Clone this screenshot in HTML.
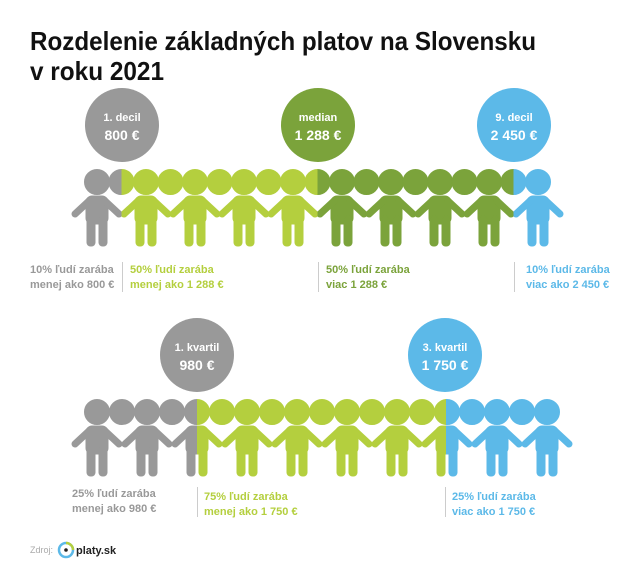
<!DOCTYPE html>
<html><head><meta charset="utf-8"><style>
html,body{margin:0;padding:0;background:#fff}
svg{display:block}
text{font-family:"Liberation Sans",sans-serif}
</style></head><body>
<svg width="640" height="585" viewBox="0 0 640 585" xmlns="http://www.w3.org/2000/svg">
<defs>
<g id="fig">
  <rect x="-11" y="14" width="22" height="28" rx="6"/>
  <line x1="-8" y1="19" x2="-22" y2="32" stroke-width="7" stroke-linecap="round"/>
  <line x1="8" y1="19" x2="22" y2="32" stroke-width="7" stroke-linecap="round"/>
  <rect x="-10" y="34" width="8" height="30" rx="3.5"/>
  <rect x="2" y="34" width="8" height="30" rx="3.5"/>
</g>
<g id="row1">
  <g id="h1">
  <circle cx="97" cy="0" r="12.5"/><circle cx="121.5" cy="0" r="12.5"/><circle cx="146" cy="0" r="12.5"/><circle cx="170.5" cy="0" r="12.5"/><circle cx="195" cy="0" r="12.5"/><circle cx="219.5" cy="0" r="12.5"/><circle cx="244" cy="0" r="12.5"/><circle cx="268.5" cy="0" r="12.5"/><circle cx="293" cy="0" r="12.5"/><circle cx="317.5" cy="0" r="12.5"/><circle cx="342" cy="0" r="12.5"/><circle cx="366.5" cy="0" r="12.5"/><circle cx="391" cy="0" r="12.5"/><circle cx="415.5" cy="0" r="12.5"/><circle cx="440" cy="0" r="12.5"/><circle cx="464.5" cy="0" r="12.5"/><circle cx="489" cy="0" r="12.5"/><circle cx="513.5" cy="0" r="12.5"/><circle cx="538" cy="0" r="12.5"/>
  </g>
  <use href="#fig" x="97"/><use href="#fig" x="146"/><use href="#fig" x="195"/><use href="#fig" x="244"/><use href="#fig" x="293"/><use href="#fig" x="342"/><use href="#fig" x="391"/><use href="#fig" x="440"/><use href="#fig" x="489"/><use href="#fig" x="538"/>
</g>
<g id="row2">
  <circle cx="97" cy="0" r="12.5"/><circle cx="122" cy="0" r="12.5"/><circle cx="147" cy="0" r="12.5"/><circle cx="172" cy="0" r="12.5"/><circle cx="197" cy="0" r="12.5"/><circle cx="222" cy="0" r="12.5"/><circle cx="247" cy="0" r="12.5"/><circle cx="272" cy="0" r="12.5"/><circle cx="297" cy="0" r="12.5"/><circle cx="322" cy="0" r="12.5"/><circle cx="347" cy="0" r="12.5"/><circle cx="372" cy="0" r="12.5"/><circle cx="397" cy="0" r="12.5"/><circle cx="422" cy="0" r="12.5"/><circle cx="447" cy="0" r="12.5"/><circle cx="472" cy="0" r="12.5"/><circle cx="497" cy="0" r="12.5"/><circle cx="522" cy="0" r="12.5"/><circle cx="547" cy="0" r="12.5"/>
  <use href="#fig" x="97"/><use href="#fig" x="147"/><use href="#fig" x="197"/><use href="#fig" x="247"/><use href="#fig" x="297"/><use href="#fig" x="347"/><use href="#fig" x="397"/><use href="#fig" x="447"/><use href="#fig" x="497"/><use href="#fig" x="547"/>
</g>
<clipPath id="c1a"><rect x="0" y="-50" width="121.5" height="150"/></clipPath>
<clipPath id="c1b"><rect x="121.5" y="-50" width="196" height="150"/></clipPath>
<clipPath id="c1c"><rect x="317.5" y="-50" width="196" height="150"/></clipPath>
<clipPath id="c1d"><rect x="513.5" y="-50" width="130" height="150"/></clipPath>
<clipPath id="c2a"><rect x="0" y="-50" width="197" height="150"/></clipPath>
<clipPath id="c2b"><rect x="197" y="-50" width="249" height="150"/></clipPath>
<clipPath id="c2c"><rect x="446" y="-50" width="200" height="150"/></clipPath>
</defs>

<text x="30" y="50" font-size="26" font-weight="bold" fill="#111" textLength="506" lengthAdjust="spacingAndGlyphs">Rozdelenie základných platov na Slovensku</text>
<text x="30" y="80" font-size="26" font-weight="bold" fill="#111" textLength="134" lengthAdjust="spacingAndGlyphs">v roku 2021</text>

<!-- row 1 circles -->
<circle cx="122" cy="125" r="37" fill="#999"/>
<circle cx="318" cy="125" r="37" fill="#7ba33b"/>
<circle cx="514" cy="125" r="37" fill="#5cb9e8"/>
<g font-weight="bold" fill="#fff" text-anchor="middle">
<text x="122" y="121" font-size="11">1. decil</text><text x="122" y="140" font-size="14">800 €</text>
<text x="318" y="121" font-size="11">median</text><text x="318" y="140" font-size="14">1 288 €</text>
<text x="514" y="121" font-size="11">9. decil</text><text x="514" y="140" font-size="14">2 450 €</text>
</g>

<g transform="translate(0,182)">
<use href="#row1" fill="#999" stroke="#999" clip-path="url(#c1a)"/>
<use href="#row1" fill="#b4cf3e" stroke="#b4cf3e" clip-path="url(#c1b)"/>
<use href="#row1" fill="#7ba33b" stroke="#7ba33b" clip-path="url(#c1c)"/>
<use href="#row1" fill="#5cb9e8" stroke="#5cb9e8" clip-path="url(#c1d)"/>
</g>

<g font-size="11" font-weight="bold">
<text x="30" y="273" fill="#999">10% ľudí zarába</text><text x="30" y="288" fill="#999">menej ako 800 €</text>
<line x1="122.5" y1="262" x2="122.5" y2="292" stroke="#ccc"/>
<text x="130" y="273" fill="#b4cf3e">50% ľudí zarába</text><text x="130" y="288" fill="#b4cf3e">menej ako 1 288 €</text>
<line x1="318.5" y1="262" x2="318.5" y2="292" stroke="#ccc"/>
<text x="326" y="273" fill="#7ba33b">50% ľudí zarába</text><text x="326" y="288" fill="#7ba33b">viac 1 288 €</text>
<line x1="514.5" y1="262" x2="514.5" y2="292" stroke="#ccc"/>
<text x="526" y="273" fill="#5cb9e8">10% ľudí zarába</text><text x="526" y="288" fill="#5cb9e8">viac ako 2 450 €</text>
</g>

<!-- row 2 -->
<circle cx="197" cy="355" r="37" fill="#999"/>
<circle cx="445" cy="355" r="37" fill="#5cb9e8"/>
<g font-weight="bold" fill="#fff" text-anchor="middle">
<text x="197" y="351" font-size="11">1. kvartil</text><text x="197" y="370" font-size="14">980 €</text>
<text x="445" y="351" font-size="11">3. kvartil</text><text x="445" y="370" font-size="14">1 750 €</text>
</g>

<g transform="translate(0,412)">
<use href="#row2" fill="#999" stroke="#999" clip-path="url(#c2a)"/>
<use href="#row2" fill="#b4cf3e" stroke="#b4cf3e" clip-path="url(#c2b)"/>
<use href="#row2" fill="#5cb9e8" stroke="#5cb9e8" clip-path="url(#c2c)"/>
</g>

<g font-size="11" font-weight="bold">
<text x="72" y="497" fill="#999">25% ľudí zarába</text><text x="72" y="512" fill="#999">menej ako 980 €</text>
<line x1="197.5" y1="487" x2="197.5" y2="517" stroke="#ccc"/>
<text x="204" y="500" fill="#b4cf3e">75% ľudí zarába</text><text x="204" y="515" fill="#b4cf3e">menej ako 1 750 €</text>
<line x1="445.5" y1="487" x2="445.5" y2="517" stroke="#ccc"/>
<text x="452" y="500" fill="#5cb9e8">25% ľudí zarába</text><text x="452" y="515" fill="#5cb9e8">viac ako 1 750 €</text>
</g>

<text x="30" y="553" font-size="9" fill="#aaa">Zdroj:</text>
<circle cx="66" cy="550" r="7" fill="none" stroke="#5cb9e8" stroke-width="2.5"/>
<path d="M66 543 A7 7 0 0 1 73 550" fill="none" stroke="#b4cf3e" stroke-width="2.5"/>
<circle cx="66" cy="550" r="1.8" fill="#222"/>
<text x="76" y="554" font-size="11" font-weight="bold" fill="#222">platy.sk</text>
</svg>
</body></html>
